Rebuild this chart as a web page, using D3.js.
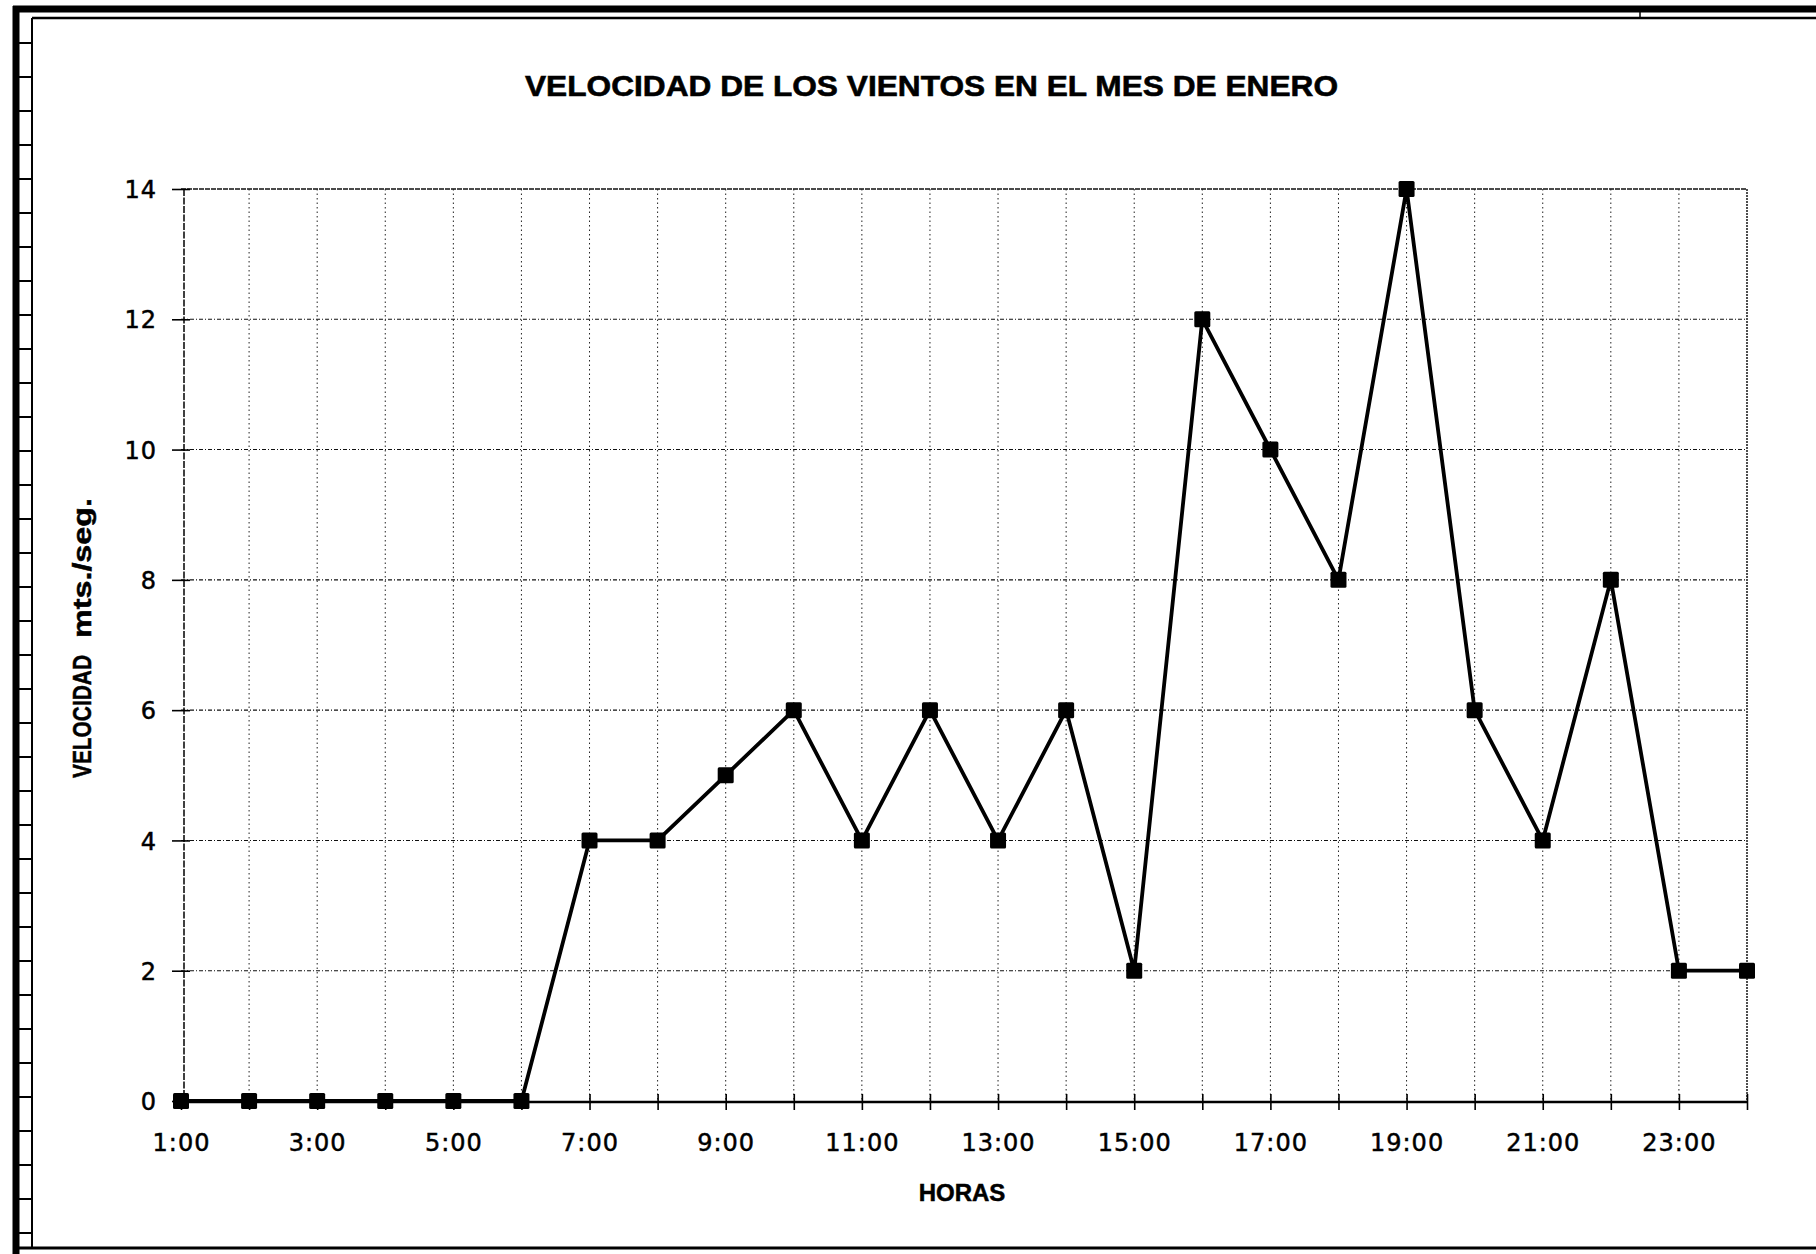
<!DOCTYPE html>
<html>
<head>
<meta charset="utf-8">
<script src="https://cdn.jsdelivr.net/npm/d3@7"></script>
<style>
  body { margin: 0; background: #fff; }
  svg { display: block; }
</style>
</head>
<body>
<svg id="chart" width="1816" height="1254"></svg>
<script>
// datos del grafico
const horas = [1, 2, 3, 4, 5, 6, 7, 8, 9, 10, 11, 12, 13, 14, 15, 16, 17, 18, 19, 20, 21, 22, 23, 24]
const velocidad = [0, 0, 0, 0, 0, 0, 4, 4, 5, 6, 4, 6, 4, 6, 2, 12, 10, 8, 14, 6, 4, 8, 2, 2]
const yTicks = [0, 2, 4, 6, 8, 10, 12, 14]
const xTickLabels = ["1:00", "3:00", "5:00", "7:00", "9:00", "11:00", "13:00", "15:00", "17:00", "19:00", "21:00", "23:00"]

const titulo = "VELOCIDAD DE LOS VIENTOS EN EL MES DE ENERO"

const width = 1816
const height = 1254

const svg = d3.select("#chart")

const x = d3.scaleLinear()
  .domain([1, 24])
  .range([181, 1747])

const y = d3.scaleLinear()
  .domain([0, 14])
  .range([1101, 189])

// marco exterior (hoja escaneada)
const frame = svg.append('g')
frame.append('line')
  .attr('x1', 13).attr('x2', width).attr('y1', 9).attr('y2', 9)
  .attr('stroke', '#000').attr('stroke-width', 7)
frame.append('line')
  .attr('x1', 32).attr('x2', width).attr('y1', 18).attr('y2', 18)
  .attr('stroke', '#000').attr('stroke-width', 2.5)
frame.append('line')
  .attr('x1', 16).attr('x2', 16).attr('y1', 6).attr('y2', height)
  .attr('stroke', '#000').attr('stroke-width', 7)
frame.append('line')
  .attr('x1', 32).attr('x2', 32).attr('y1', 18).attr('y2', 1249)
  .attr('stroke', '#000').attr('stroke-width', 2)
frame.append('line')
  .attr('x1', 19).attr('x2', width).attr('y1', 1248).attr('y2', 1248)
  .attr('stroke', '#000').attr('stroke-width', 3)
frame.append('line')
  .attr('x1', 1640).attr('x2', 1640).attr('y1', 12).attr('y2', 18)
  .attr('stroke', '#000').attr('stroke-width', 1.5)

frame.selectAll('.ftick')
  .data(d3.range(43, 1248, 34))
  .enter()
  .append('line')
  .attr('class', 'ftick')
  .attr('x1', 19).attr('x2', 32)
  .attr('y1', d => d).attr('y2', d => d)
  .attr('stroke', '#000').attr('stroke-width', 2)

// titulo
svg.append('text')
  .attr('x', 525)
  .attr('y', 96)
  .attr('textLength', 813)
  .attr('lengthAdjust', 'spacingAndGlyphs')
  .attr('font-family', 'Liberation Sans, Arial, sans-serif')
  .attr('font-weight', 'bold')
  .attr('font-size', 29)
  .attr('stroke', '#000')
  .attr('stroke-width', 0.6)
  .text(titulo)

// rejilla
const grid = svg.append('g')

grid.selectAll('.hgrid')
  .data(yTicks.filter(d => d > 0))
  .enter()
  .append('line')
  .attr('class', 'hgrid')
  .attr('x1', x(1)).attr('x2', x(24))
  .attr('y1', d => y(d)).attr('y2', d => y(d))
  .attr('stroke', '#111')
  .attr('stroke-width', d => d == 14 ? 1.6 : 1.1)
  .attr('stroke-dasharray', d => d == 14 ? '5,1' : '4,2,1,2')

grid.selectAll('.vgrid')
  .data(horas.filter(d => d > 1))
  .enter()
  .append('line')
  .attr('class', 'vgrid')
  .attr('x1', d => x(d)).attr('x2', d => x(d))
  .attr('y1', y(14)).attr('y2', y(0))
  .attr('stroke', '#222')
  .attr('stroke-width', d => d == 24 ? 1.6 : 1)
  .attr('stroke-dasharray', d => d == 24 ? '2,1' : '1.5,3')

// eje y
const yAxis = d3.axisLeft(y)
  .tickValues(yTicks)
  .tickSize(12)
  .tickFormat(d3.format('d'))

const yG = svg.append('g')
  .attr('transform', `translate(${x(1) + 3},0)`)
  .call(yAxis)

yG.select('.domain')
  .attr('stroke', '#000')
  .attr('stroke-width', 1.5)
  .attr('stroke-dasharray', '7,1.5')
  .attr('d', `M0,${y(14)}V${y(0)}`)

yG.selectAll('.tick line')
  .attr('x1', -12).attr('x2', 6)
  .attr('stroke', '#000').attr('stroke-width', 1.6)

yG.selectAll('.tick text')
  .attr('x', -27)
  .attr('dy', '0.36em')
  .attr('font-family', 'DejaVu Sans, sans-serif')
  .attr('font-size', 24)
  .attr('letter-spacing', 1)
  .attr('fill', '#000')
  .attr('stroke', '#000')
  .attr('stroke-width', 0.5)

// eje x
const xAxis = d3.axisBottom(x)
  .tickValues(horas)
  .tickSize(8)
  .tickFormat(d => xTickLabels.includes(d + ':00') ? d + ':00' : '')

const xG = svg.append('g')
  .attr('transform', `translate(0,${y(0) + 1})`)
  .call(xAxis)

xG.select('.domain')
  .attr('stroke', '#000')
  .attr('stroke-width', 2.5)
  .attr('d', `M${x(1)},0H${x(24)}`)

xG.selectAll('.tick line')
  .attr('y1', -8).attr('y2', 8)
  .attr('stroke', '#000').attr('stroke-width', 1.6)

xG.selectAll('.tick text')
  .attr('y', 49)
  .attr('dy', 0)
  .attr('font-family', 'DejaVu Sans, sans-serif')
  .attr('font-size', 24)
  .attr('letter-spacing', 1)
  .attr('fill', '#000')
  .attr('stroke', '#000')
  .attr('stroke-width', 0.5)

// titulos de ejes
svg.append('text')
  .attr('x', 962)
  .attr('y', 1201)
  .attr('text-anchor', 'middle')
  .attr('font-family', 'Liberation Sans, Arial, sans-serif')
  .attr('font-weight', 'bold')
  .attr('font-size', 24)
  .attr('stroke', '#000')
  .attr('stroke-width', 0.5)
  .text('HORAS')

svg.append('text')
  .attr('transform', 'translate(91,778) rotate(-90)')
  .attr('textLength', 123)
  .attr('lengthAdjust', 'spacingAndGlyphs')
  .attr('font-family', 'Liberation Sans, Arial, sans-serif')
  .attr('font-weight', 'bold')
  .attr('font-size', 26)
  .attr('stroke', '#000')
  .attr('stroke-width', 0.5)
  .text('VELOCIDAD')

svg.append('text')
  .attr('transform', 'translate(91,638) rotate(-90)')
  .attr('textLength', 140)
  .attr('lengthAdjust', 'spacingAndGlyphs')
  .attr('font-family', 'Liberation Sans, Arial, sans-serif')
  .attr('font-weight', 'bold')
  .attr('font-size', 26)
  .attr('stroke', '#000')
  .attr('stroke-width', 0.5)
  .text('mts./seg.')

// serie
const line = d3.line()
  .x((d, i) => x(horas[i]))
  .y(d => y(d))

svg.append('path')
  .datum(velocidad)
  .attr('d', line)
  .attr('fill', 'none')
  .attr('stroke', '#000')
  .attr('stroke-width', 3.8)
  .attr('stroke-linejoin', 'round')

svg.append('g').selectAll('rect')
  .data(velocidad)
  .enter()
  .append('rect')
  .attr('x', (d, i) => x(horas[i]) - 8)
  .attr('y', d => y(d) - 8)
  .attr('width', 16)
  .attr('height', 16)
  .attr('rx', 1.5)
  .attr('fill', '#000')
</script>
</body>
</html>
